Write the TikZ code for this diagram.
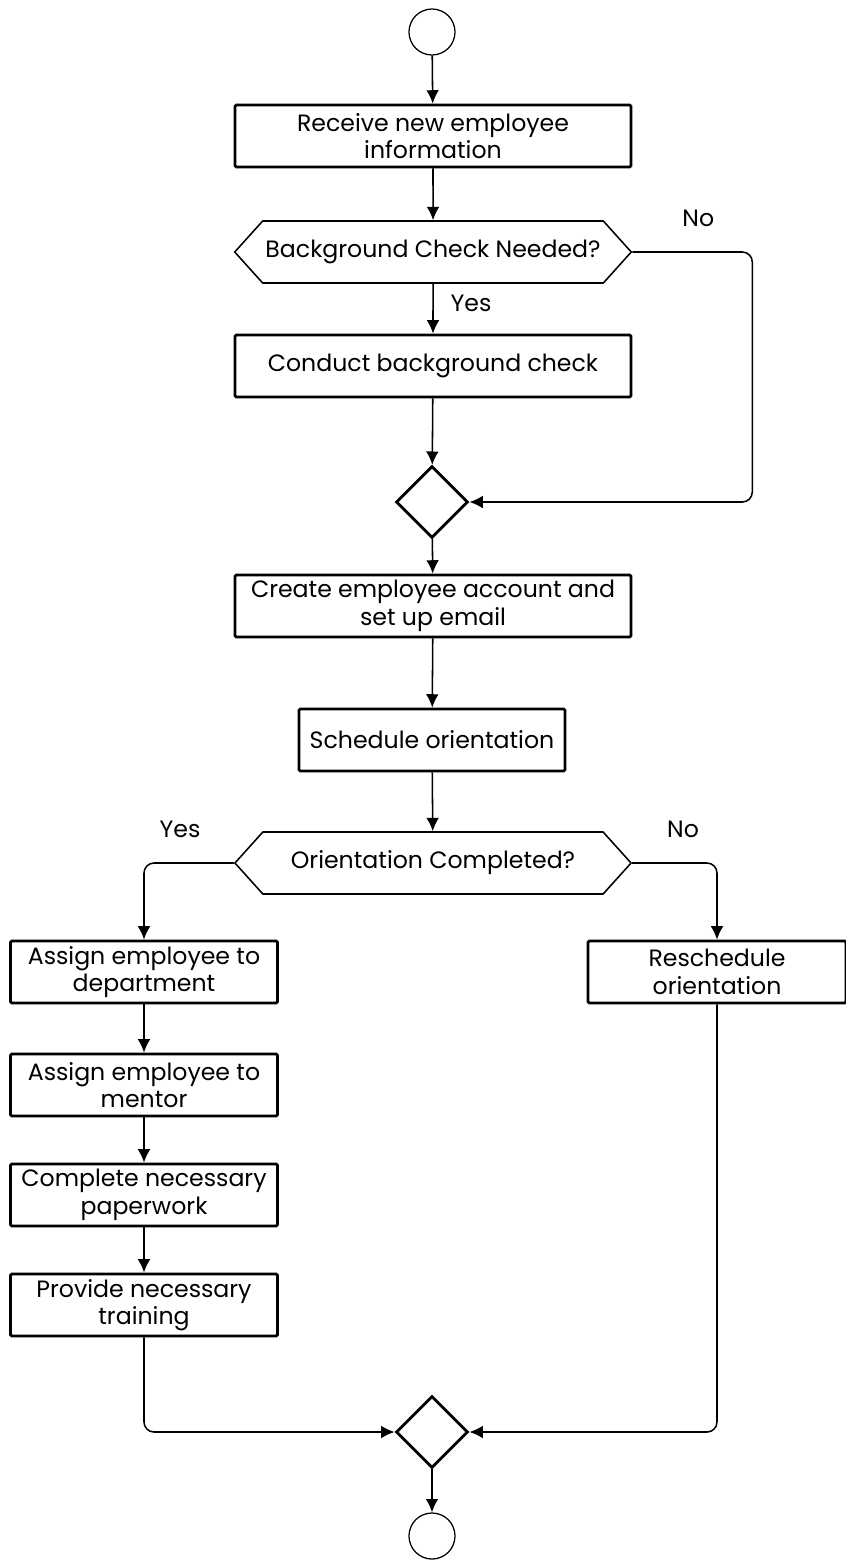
\documentclass[tikz,border=0pt]{standalone}
\usepackage{fontspec}
\setmainfont{Poppins}
\usetikzlibrary{shapes.geometric,shapes.symbols,arrows.meta}

\begin{document}
\begin{tikzpicture}[
        x=0.025cm, y=-0.025cm,
        font=\fontsize{16.8}{19.5}\selectfont,
        every node/.style={align=center, inner sep=2pt},
        stepbox/.style={rectangle, draw, line width=2pt, rounded corners=1pt, minimum width=9.9cm, minimum height=1.55cm},
        sidebox/.style={stepbox, minimum width=6.675cm},
        choice/.style={signal, signal to=west and east, signal pointer angle=96, draw, line width=1.1pt, minimum width=9.9cm, minimum height=1.55cm},
        merge/.style={diamond, draw, line width=2pt, minimum width=1.8cm, minimum height=1.8cm, inner sep=0pt},
        startend/.style={circle, draw, line width=0.9pt, minimum size=1.15cm, inner sep=0pt},
        line/.style={draw, line width=1.1pt, -{Latex[length=9.5pt, width=9pt]}, rounded corners=0.25cm}
    ]
 \useasboundingbox (0,0) rectangle (846,1560);

 \node[startend] (start) at (432,32) {};
 \node[stepbox] (recv) at (433,136) {Receive new employee\\information};
 \node[choice] (bgq) at (433,252) {Background Check Needed?};
 \node[stepbox] (bgc) at (433,366) {Conduct background check};
 \node[merge] (m1) at (432,502) {};
 \node[stepbox] (acct) at (433,606) {Create employee account and\\set up email};
 \node[stepbox, minimum width=6.65cm] (sched) at (432,740) {Schedule orientation};
 \node[choice] (orq) at (433,863) {Orientation Completed?};
 \node[sidebox] (dept) at (144,972) {Assign employee to\\department};
 \node[sidebox] (ment) at (144,1085) {Assign employee to\\mentor};
 \node[sidebox] (paper) at (144,1195) {Complete necessary\\paperwork};
 \node[sidebox] (train) at (144,1305) {Provide necessary\\training};
 \node[stepbox, minimum width=6.45cm] (resch) at (717,972) {Reschedule\\orientation};
 \node[merge] (m2) at (432,1432) {};
 \node[startend] (stop) at (432,1536) {};

 \draw[line] (start) -- (recv);
 \draw[line] (recv) -- (bgq);
 \draw[line] (bgq) -- node[right=0.35cm, pos=0.4] {Yes} (bgc);
 \draw[line] (bgq.east) -- node[above=0.55cm, pos=0.55] {No} ++(120,0) |- (m1.east);
 \draw[line] (bgc) -- (m1);
 \draw[line] (m1) -- (acct);
 \draw[line] (acct) -- (sched);
 \draw[line] (sched) -- (orq);
 \draw[line] (orq.west) -| node[above=0.55cm, pos=0.3] {Yes} (dept);
 \draw[line] (orq.east) -| node[above=0.55cm, pos=0.3] {No} (resch);
 \draw[line] (dept) -- (ment);
 \draw[line] (ment) -- (paper);
 \draw[line] (paper) -- (train);
 \draw[line] (train) |- (m2);
 \draw[line] (resch) |- (m2);
 \draw[line] (m2) -- (stop);
\end{tikzpicture}
\end{document}
